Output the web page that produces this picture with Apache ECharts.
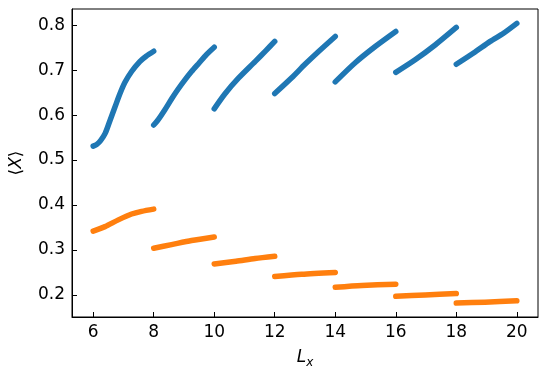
<!DOCTYPE html>
<html>
<head>
<meta charset="utf-8">
<script src="https://cdn.jsdelivr.net/npm/echarts@6/dist/echarts.min.js"></script>
<style>
  html, body { margin: 0; padding: 0; background: #fff; }
  #chart { width: 547px; height: 378px; }
</style>
</head>
<body>
<div id="chart"></div>
<script>
// tick labels
const xTicks = [6, 8, 10, 12, 14, 16, 18, 20];
const yTicks = [0.2, 0.3, 0.4, 0.5, 0.6, 0.7, 0.8];

// blue <X> vs L_x, one list per segment [L, value]
const blueSegs = [
  [[6.0, 0.531], [6.12, 0.535], [6.25, 0.544], [6.4, 0.560], [6.55, 0.587], [6.72, 0.618], [6.88, 0.647], [7.05, 0.673], [7.27, 0.697], [7.54, 0.719], [7.75, 0.731], [8.0, 0.742]],
  [[8.0, 0.578], [8.15, 0.590], [8.37, 0.612], [8.6, 0.637], [8.81, 0.658], [9.05, 0.680], [9.25, 0.697], [9.5, 0.716], [9.75, 0.735], [10.0, 0.751]],
  [[10.0, 0.614], [10.35, 0.647], [10.8, 0.682], [11.35, 0.719], [11.7, 0.743], [12.0, 0.764]],
  [[12.0, 0.648], [12.56, 0.683], [13.0, 0.713], [13.44, 0.741], [14.0, 0.775]],
  [[14.0, 0.674], [14.65, 0.716], [15.31, 0.752], [16.0, 0.786]],
  [[16.0, 0.695], [16.64, 0.723], [17.3, 0.756], [18.0, 0.795]],
  [[18.0, 0.713], [18.57, 0.738], [19.12, 0.764], [19.56, 0.782], [20.0, 0.804]]
];

// orange
const orangeSegs = [
  [[6.0, 0.342], [6.39, 0.352], [6.83, 0.367], [7.27, 0.380], [7.6, 0.386], [8.0, 0.391]],
  [[8.0, 0.304], [8.59, 0.312], [9.25, 0.321], [10.0, 0.329]],
  [[10.0, 0.269], [10.72, 0.275], [11.35, 0.281], [12.0, 0.286]],
  [[12.0, 0.241], [12.89, 0.246], [14.0, 0.250]],
  [[14.0, 0.217], [14.88, 0.221], [16.0, 0.224]],
  [[16.0, 0.197], [16.97, 0.200], [18.0, 0.203]],
  [[18.0, 0.182], [18.95, 0.184], [20.0, 0.187]]
];

const font = "DejaVu Sans";

function segSeries(segs, color) {
  return segs.map(function (d) {
    return {
      type: "line",
      data: d,
      smooth: 0.25,
      symbol: "none",
      lineStyle: { color: color, width: 5.5, cap: "round", join: "round" },
      silent: true
    };
  });
}

const chart = echarts.init(document.getElementById("chart"));
chart.setOption({
  animation: false,
  backgroundColor: "#fff",
  grid: {
    left: 72, right: 9, top: 9, bottom: 61,
    show: true, borderColor: "#000", borderWidth: 1
  },
  xAxis: {
    type: "value",
    min: 5.3, max: 20.7,
    name: "{i|L}{s|x}",
    nameLocation: "middle",
    nameGap: 30,
    nameTextStyle: {
      rich: {
        i: { fontFamily: font, fontSize: 17, fontStyle: "italic", color: "#000" },
        s: { fontFamily: font, fontSize: 12, fontStyle: "italic", color: "#000", padding: [10, 0, 0, 0], verticalAlign: "bottom" }
      }
    },
    axisLine: { lineStyle: { color: "#000", width: 1 } },
    axisTick: { inside: true, length: 5, customValues: xTicks, lineStyle: { color: "#000" } },
    axisLabel: { customValues: xTicks, color: "#000", fontFamily: font, fontSize: 17, margin: 7 },
    splitLine: { show: false }
  },
  yAxis: {
    type: "value",
    min: 0.151, max: 0.836,
    name: "{b|⟨}{i|X}{b|⟩}",
    nameLocation: "middle",
    nameRotate: 90,
    nameGap: 47,
    nameTextStyle: {
      rich: {
        b: { fontFamily: font, fontSize: 17, color: "#000" },
        i: { fontFamily: font, fontSize: 17, fontStyle: "italic", color: "#000" }
      }
    },
    axisLine: { show: true, lineStyle: { color: "#000", width: 1 } },
    axisTick: { show: true, inside: true, length: 5, customValues: yTicks, lineStyle: { color: "#000" } },
    axisLabel: {
      customValues: yTicks, color: "#000", fontFamily: font, fontSize: 17, margin: 7,
      formatter: function (v) { return v.toFixed(1); }
    },
    splitLine: { show: false }
  },
  series: segSeries(blueSegs, "#1f77b4").concat(segSeries(orangeSegs, "#ff7f0e"))
});
</script>
</body>
</html>
